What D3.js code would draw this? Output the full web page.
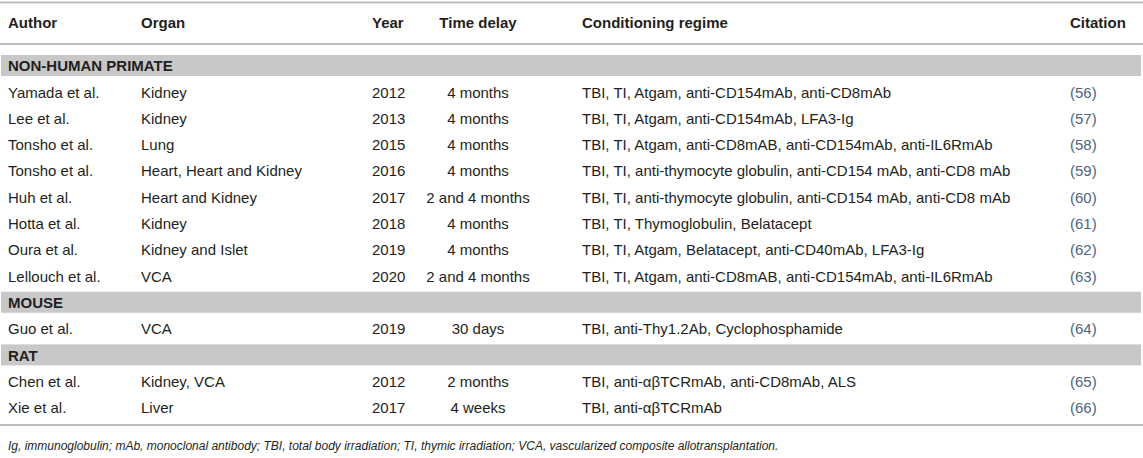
<!DOCTYPE html>
<html>
<head>
<meta charset="utf-8">
<script src="https://cdn.jsdelivr.net/npm/d3@7"></script>
<style>
  body { margin: 0; background: #fff; }
  svg text { font-family: "Liberation Sans", Arial, Helvetica, sans-serif; fill: #231f20; }
  .head { font-weight: bold; font-size: 15px; }
  .cell { font-size: 15px; }
  .group { font-weight: bold; font-size: 15px; }
  .cite { fill: #4d6580; }
  .note { font-size: 12px; font-style: italic; }
</style>
</head>
<body>
<svg id="table"></svg>
<script>
// column headers
const headers = ["Author", "Organ", "Year", "Time delay", "Conditioning regime", "Citation"];

// species groups and the rows that belong to them
const groups = ["NON-HUMAN PRIMATE", "MOUSE", "RAT"];
const groupOf = ["NON-HUMAN PRIMATE", "NON-HUMAN PRIMATE", "NON-HUMAN PRIMATE", "NON-HUMAN PRIMATE",
  "NON-HUMAN PRIMATE", "NON-HUMAN PRIMATE", "NON-HUMAN PRIMATE", "NON-HUMAN PRIMATE", "MOUSE", "RAT", "RAT"];

const authors = ["Yamada et al.", "Lee et al.", "Tonsho et al.", "Tonsho et al.", "Huh et al.", "Hotta et al.",
  "Oura et al.", "Lellouch et al.", "Guo et al.", "Chen et al.", "Xie et al."];
const organs = ["Kidney", "Kidney", "Lung", "Heart, Heart and Kidney", "Heart and Kidney", "Kidney",
  "Kidney and Islet", "VCA", "VCA", "Kidney, VCA", "Liver"];
const years = [2012, 2013, 2015, 2016, 2017, 2018, 2019, 2020, 2019, 2012, 2017];
const delays = ["4 months", "4 months", "4 months", "4 months", "2 and 4 months", "4 months",
  "4 months", "2 and 4 months", "30 days", "2 months", "4 weeks"];
const regimes = [
  "TBI, TI, Atgam, anti-CD154mAb, anti-CD8mAb",
  "TBI, TI, Atgam, anti-CD154mAb, LFA3-Ig",
  "TBI, TI, Atgam, anti-CD8mAB, anti-CD154mAb, anti-IL6RmAb",
  "TBI, TI, anti-thymocyte globulin, anti-CD154 mAb, anti-CD8 mAb",
  "TBI, TI, anti-thymocyte globulin, anti-CD154 mAb, anti-CD8 mAb",
  "TBI, TI, Thymoglobulin, Belatacept",
  "TBI, TI, Atgam, Belatacept, anti-CD40mAb, LFA3-Ig",
  "TBI, TI, Atgam, anti-CD8mAB, anti-CD154mAb, anti-IL6RmAb",
  "TBI, anti-Thy1.2Ab, Cyclophosphamide",
  "TBI, anti-\u03b1\u03b2TCRmAb, anti-CD8mAb, ALS",
  "TBI, anti-\u03b1\u03b2TCRmAb"
];
const citations = [56, 57, 58, 59, 60, 61, 62, 63, 64, 65, 66];

const footnote = "Ig, immunoglobulin; mAb, monoclonal antibody; TBI, total body irradiation; TI, thymic irradiation; VCA, vascularized composite allotransplantation.";

const width = 1143, height = 458;
const svg = d3.select("#table").attr("width", width).attr("height", height);

// build the ordered list of table lines: group band followed by its rows
const lines = [];
groups.forEach(function (g) {
  lines.push({ type: "group", label: g, id: "g_" + g });
  authors.forEach(function (a, i) {
    if (groupOf[i] === g) {
      lines.push({
        type: "row", id: "r_" + i,
        cells: [a, organs[i], String(years[i]), delays[i], regimes[i], "(" + citations[i] + ")"]
      });
    }
  });
});

// vertical placement of each line
const y = d3.scalePoint().domain(lines.map(d => d.id)).range([66, 408]);

// horizontal placement of each column
const colX = d3.scaleOrdinal().domain(headers).range([8, 141, 372, 478, 582, 1070]);
const colAnchor = d3.scaleOrdinal().domain(headers).range(["start", "start", "start", "middle", "start", "start"]);

const ruleColor = "#bdbdbd";

// rules
[2.5, 44, 425].forEach(function (ry) {
  svg.append("line")
    .attr("x1", 0).attr("x2", width)
    .attr("y1", ry).attr("y2", ry)
    .attr("stroke", ruleColor)
    .attr("stroke-width", 2);
});

// header
svg.append("g")
  .selectAll("text")
  .data(headers)
  .enter()
  .append("text")
  .attr("class", "head")
  .attr("x", d => colX(d))
  .attr("y", 23)
  .attr("dy", "0.35em")
  .attr("text-anchor", d => colAnchor(d))
  .text(d => d);

// group bands
const bands = svg.append("g")
  .selectAll("g")
  .data(lines.filter(d => d.type === "group"))
  .enter()
  .append("g");

bands.append("rect")
  .attr("x", 1)
  .attr("width", width - 3)
  .attr("y", d => y(d.id) - 11)
  .attr("height", 21)
  .attr("fill", "#c8c8c8");

bands.append("text")
  .attr("class", "group")
  .attr("x", 8)
  .attr("y", d => y(d.id))
  .attr("dy", "0.35em")
  .text(d => d.label);

// data rows
const rows = svg.append("g")
  .selectAll("g")
  .data(lines.filter(d => d.type === "row"))
  .enter()
  .append("g");

rows.selectAll("text")
  .data(function (d) {
    return d.cells.map(function (c, j) { return { text: c, col: headers[j], id: d.id }; });
  })
  .enter()
  .append("text")
  .attr("class", d => d.col === "Citation" ? "cell cite" : "cell")
  .attr("x", d => colX(d.col))
  .attr("y", d => y(d.id))
  .attr("dy", "0.35em")
  .attr("text-anchor", d => colAnchor(d.col))
  .text(d => d.text);

// footnote
svg.append("text")
  .attr("class", "note")
  .attr("x", 8)
  .attr("y", 446)
  .attr("dy", "0.35em")
  .text(footnote);
</script>
</body>
</html>
